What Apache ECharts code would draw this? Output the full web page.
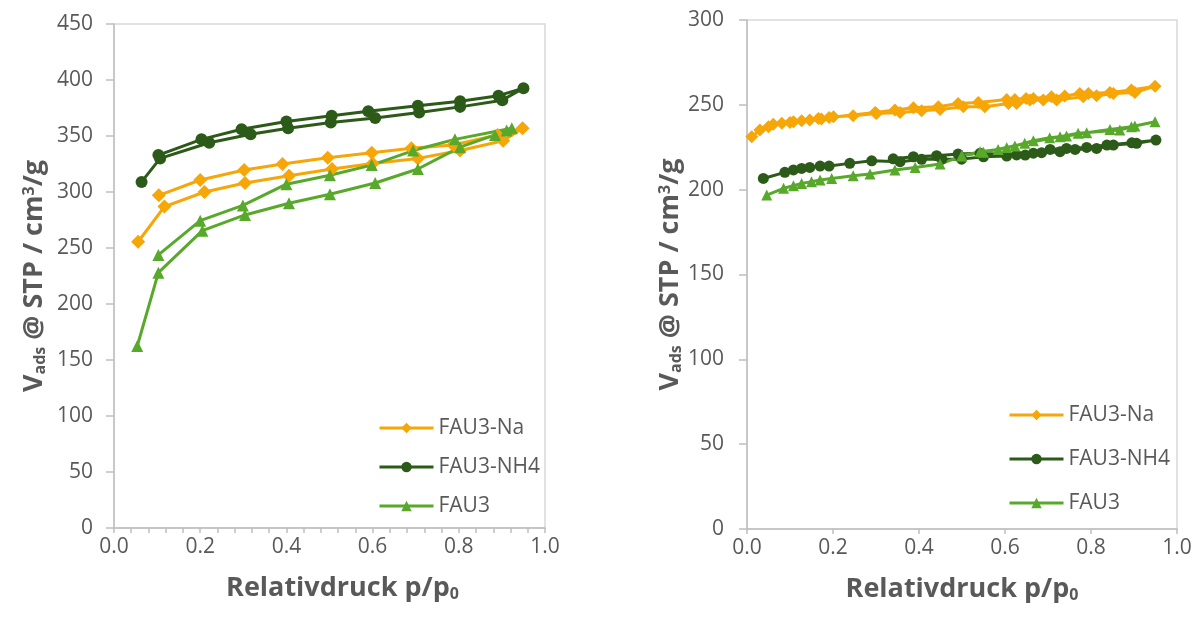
<!DOCTYPE html>
<html>
<head>
<meta charset="utf-8">
<script src="https://cdn.jsdelivr.net/npm/echarts/dist/echarts.min.js"></script>
<style>
  html, body { margin: 0; padding: 0; background: #fff; }
  #chart { width: 1199px; height: 618px; }
</style>
</head>
<body>
<div id="chart"></div>
<script>
// left chart: adsorption branch then desorption branch, as one path
const leftNaP = [0.056, 0.117, 0.210, 0.304, 0.406, 0.506, 0.600, 0.705, 0.803, 0.903, 0.948, 0.890, 0.787, 0.690, 0.598, 0.496, 0.391, 0.302, 0.200, 0.104]
const leftNaV = [255.6, 287, 300, 308, 314.6, 320.5, 325.5, 330, 337, 345.8, 357, 351, 342, 339, 335, 330.6, 325, 319.6, 310.7, 297]
const leftNh4P = [0.064, 0.107, 0.221, 0.317, 0.404, 0.503, 0.606, 0.708, 0.803, 0.901, 0.950, 0.892, 0.803, 0.705, 0.590, 0.505, 0.400, 0.296, 0.203, 0.103]
const leftNh4V = [309, 330, 344, 351.5, 357, 362, 366, 371, 376, 382, 392.6, 386, 381, 377, 372, 368, 363, 356, 347, 333]
const leftFauP = [0.054, 0.103, 0.205, 0.304, 0.406, 0.501, 0.606, 0.705, 0.803, 0.884, 0.911, 0.923, 0.791, 0.694, 0.598, 0.501, 0.400, 0.299, 0.200, 0.103]
const leftFauV = [162.5, 228, 265.5, 279.5, 290, 298, 308, 320.5, 340, 351, 355, 357, 347, 337, 324, 315, 307, 288, 274.4, 243.8]

// right chart
const rightNaP = [0.011, 0.030, 0.050, 0.061, 0.081, 0.100, 0.127, 0.146, 0.173, 0.201, 0.247, 0.301, 0.356, 0.406, 0.449, 0.503, 0.553, 0.608, 0.627, 0.658, 0.689, 0.720, 0.782, 0.813, 0.852, 0.902, 0.949,
  0.894, 0.844, 0.794, 0.774, 0.739, 0.708, 0.666, 0.649, 0.623, 0.604, 0.538, 0.491, 0.445, 0.387, 0.344, 0.298, 0.191, 0.166, 0.108]
const rightNaV = [231.2, 235.1, 237.1, 238.5, 239.1, 239.6, 240.6, 241, 241.6, 243, 243.6, 244.9, 245.5, 246.5, 247.3, 248.9, 248.9, 250.8, 250.8, 252.8, 252.8, 252.8, 254.8, 255.4, 256.7, 257.3, 261,
  258.7, 257.3, 256.7, 256.7, 255.2, 254.8, 253.8, 253.8, 253.2, 253.2, 251.4, 250.8, 248.9, 248.3, 246.9, 245.5, 242.6, 242, 240]
const rightNh4P = [0.038, 0.088, 0.108, 0.127, 0.146, 0.170, 0.191, 0.239, 0.290, 0.356, 0.406, 0.453, 0.499, 0.550, 0.604, 0.647, 0.685, 0.728, 0.763, 0.813, 0.852, 0.906, 0.951,
  0.895, 0.837, 0.790, 0.743, 0.705, 0.666, 0.627, 0.542, 0.491, 0.441, 0.387, 0.340]
const rightNh4V = [206.6, 210.2, 211.6, 212.5, 213.1, 213.9, 213.9, 215.5, 217, 216.5, 217.9, 218, 218, 219.4, 219.8, 220.4, 221.8, 222.4, 223.7, 224.3, 226.3, 227.3, 229.2,
  227.6, 226.3, 224.9, 224.3, 223.7, 221.5, 220.5, 221.4, 221, 220, 219.4, 218.2]
const rightFauP = [0.046, 0.085, 0.108, 0.127, 0.150, 0.170, 0.197, 0.247, 0.286, 0.344, 0.391, 0.449, 0.499, 0.542, 0.584, 0.623, 0.666, 0.704, 0.743, 0.790, 0.844, 0.894, 0.949,
  0.902, 0.867, 0.770, 0.728, 0.646, 0.604, 0.550, 0.500]
const rightFauV = [196.8, 200.8, 202.3, 203.7, 204.7, 205.7, 206.6, 208.2, 209.2, 211.6, 213.1, 215.1, 219.8, 222.4, 223.7, 225.7, 228.8, 230.6, 231.6, 233.5, 235.5, 237.1, 240,
  237.5, 235.1, 233.2, 231.2, 227.3, 224.9, 222, 220]

const seriesNames = ['FAU3-Na', 'FAU3-NH4', 'FAU3']
const leftYMax = 450
const rightYMax = 300

const ORANGE = '#F7A608'
const DARK = '#2C5A18'
const LIGHT = '#58A92B'
const GREY = '#595959'
const FONT = 'Open Sans'

function pairs(p, v) {
  return p.map((x, i) => [x, v[i]])
}

const titleRich = {
  s: { fontSize: 16, fontWeight: 'bold', fontFamily: FONT, color: GREY, verticalAlign: 'bottom' },
  p: { fontSize: 16, fontWeight: 'bold', fontFamily: FONT, color: GREY, verticalAlign: 'top' }
}

function xAxis(grid, minor, nameShift) {
  return {
    gridIndex: grid,
    type: 'value',
    min: 0,
    max: 1,
    interval: 0.2,
    axisLine: { lineStyle: { color: '#bfbfbf', width: 1.5 } },
    axisTick: { show: true, length: 5, lineStyle: { color: '#bfbfbf', width: 1.5 } },
    minorTick: { show: minor, splitNumber: 5, length: 5, lineStyle: { color: '#bfbfbf', width: 1.5 } },
    splitLine: { show: false },
    axisLabel: { formatter: v => v.toFixed(1), fontSize: 21, color: GREY, fontFamily: FONT, margin: 9 },
    name: 'Relativdruck p/p{s|0}',
    nameLocation: 'middle',
    nameGap: 47,
    nameTextStyle: { fontSize: 27, fontWeight: 'bold', color: GREY, fontFamily: FONT, padding: [0, 0, 0, nameShift], rich: titleRich }
  }
}

function yAxis(grid, max, margin, gap) {
  return {
    gridIndex: grid,
    type: 'value',
    min: 0,
    max: max,
    interval: 50,
    axisLine: { show: true, lineStyle: { color: '#bfbfbf', width: 1.5 } },
    axisTick: { show: true, length: 8, lineStyle: { color: '#bfbfbf', width: 1.5 } },
    splitLine: { show: false },
    axisLabel: { fontSize: 21, color: GREY, fontFamily: FONT, margin: margin },
    name: 'V{s|ads} @ STP / cm{p|3}/g',
    nameLocation: 'middle',
    nameGap: gap,
    nameTextStyle: { fontSize: 27, fontWeight: 'bold', color: GREY, fontFamily: FONT, rich: titleRich }
  }
}

function makeSeries(name, grid, p, v, color, symbol, size) {
  return {
    name: name,
    type: 'line',
    xAxisIndex: grid,
    yAxisIndex: grid,
    data: pairs(p, v),
    symbol: symbol,
    symbolSize: size,
    showAllSymbol: true,
    color: color,
    itemStyle: { color: color },
    lineStyle: { color: color, width: 3 }
  }
}

function legend(left, top, gap) {
  return {
    data: seriesNames,
    orient: 'vertical',
    left: left,
    top: top,
    itemWidth: 54,
    itemHeight: 13,
    itemGap: gap,
    lineStyle: { width: 3 },
    textStyle: { fontSize: 21, lineHeight: 22, color: GREY, fontFamily: FONT },
    selectedMode: false
  }
}

const chart = echarts.init(document.getElementById('chart'))
chart.setOption({
  animation: false,
  textStyle: { fontFamily: FONT },
  grid: [
    { left: 114, top: 24, width: 431, height: 504, show: true, borderColor: '#d9d9d9', borderWidth: 1.5 },
    { left: 747, top: 20, width: 430, height: 509, show: true, borderColor: '#d9d9d9', borderWidth: 1.5 }
  ],
  xAxis: [xAxis(0, true, 26), xAxis(1, false, 0)],
  yAxis: [yAxis(0, leftYMax, 21, 66), yAxis(1, rightYMax, 23, 62)],
  legend: [legend(373, 412, 17), legend(1003, 399, 22)],
  series: [
    makeSeries(seriesNames[0], 0, leftNaP, leftNaV, ORANGE, 'diamond', 14),
    makeSeries(seriesNames[1], 0, leftNh4P, leftNh4V, DARK, 'circle', 12),
    makeSeries(seriesNames[2], 0, leftFauP, leftFauV, LIGHT, 'triangle', 12),
    makeSeries(seriesNames[0], 1, rightNaP, rightNaV, ORANGE, 'diamond', 13),
    makeSeries(seriesNames[1], 1, rightNh4P, rightNh4V, DARK, 'circle', 11),
    makeSeries(seriesNames[2], 1, rightFauP, rightFauV, LIGHT, 'triangle', 11)
  ]
})
</script>
</body>
</html>
